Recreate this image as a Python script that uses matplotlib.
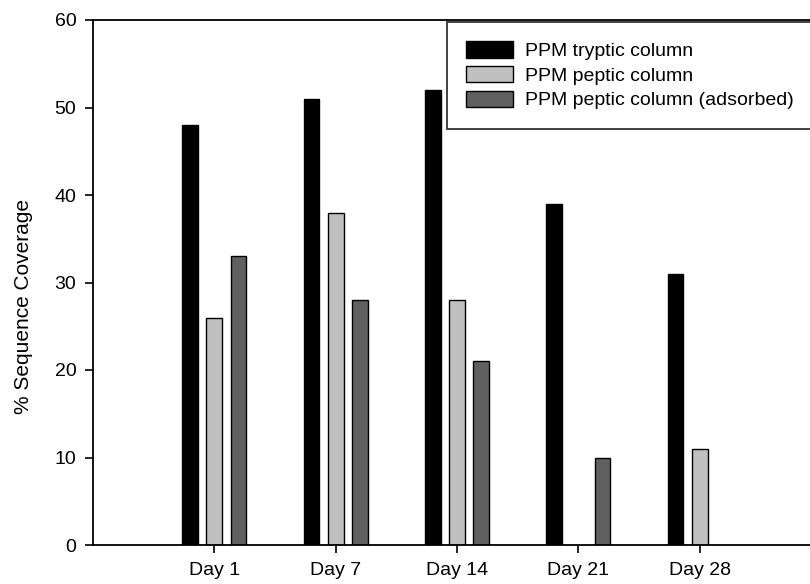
import numpy as np
import matplotlib
matplotlib.use("Agg")
import matplotlib.pyplot as plt

plt.rcParams['font.family'] = ['Liberation Sans', 'DejaVu Sans']

# ── data ──────────────────────────────────────────────────────────────────────
days      = ["Day 1", "Day 7", "Day 14", "Day 21", "Day 28"]
tryptic   = [48, 51, 52, 39, 31]
peptic    = [26, 38, 28, np.nan, 11]
adsorbed  = [33, 28, 21, 10, np.nan]
labels    = ["PPM tryptic column", "PPM peptic column", "PPM peptic column (adsorbed)"]
colors    = ["#000000", "#c0c0c0", "#606060"]

# ── plot ──────────────────────────────────────────────────────────────────────
fig = plt.figure(figsize=(8.10, 5.84), dpi=100)
ax = fig.add_axes([93/810, 39/584, 728/810, 525/584])

x = np.arange(1, len(days) + 1)
w = 0.13
for off, vals, c, lab in zip([-0.2, 0, 0.2], [tryptic, peptic, adsorbed], colors, labels):
    ax.bar(x + off, vals, width=w, color=c, edgecolor='black', linewidth=1.0, label=lab)

ax.set_xlim(0, 6)
ax.set_ylim(0, 60)
ax.set_xticks(x)
ax.set_xticklabels(days, fontsize=14)
ax.set_yticks(range(0, 61, 10))
ax.tick_params(axis='y', labelsize=14, direction='out', length=6, width=1.2, pad=6)
ax.tick_params(axis='x', direction='out', length=6, width=1.2, pad=6)
ax.set_ylabel("% Sequence Coverage", fontsize=15)
ax.yaxis.set_label_coords(-60/728, 0.455)
for s in ax.spines.values():
    s.set_linewidth(1.3)

leg = ax.legend(loc='upper left', bbox_to_anchor=(447/810, 1 - 22/584),
                bbox_transform=fig.transFigure, fontsize=14, frameon=True,
                fancybox=False, edgecolor='black', borderpad=1.0,
                handlelength=2.4, handleheight=0.9, labelspacing=0.3,
                handletextpad=0.6, borderaxespad=0)
leg.get_frame().set_linewidth(1.3)

fig.savefig("out.png", dpi=100)
